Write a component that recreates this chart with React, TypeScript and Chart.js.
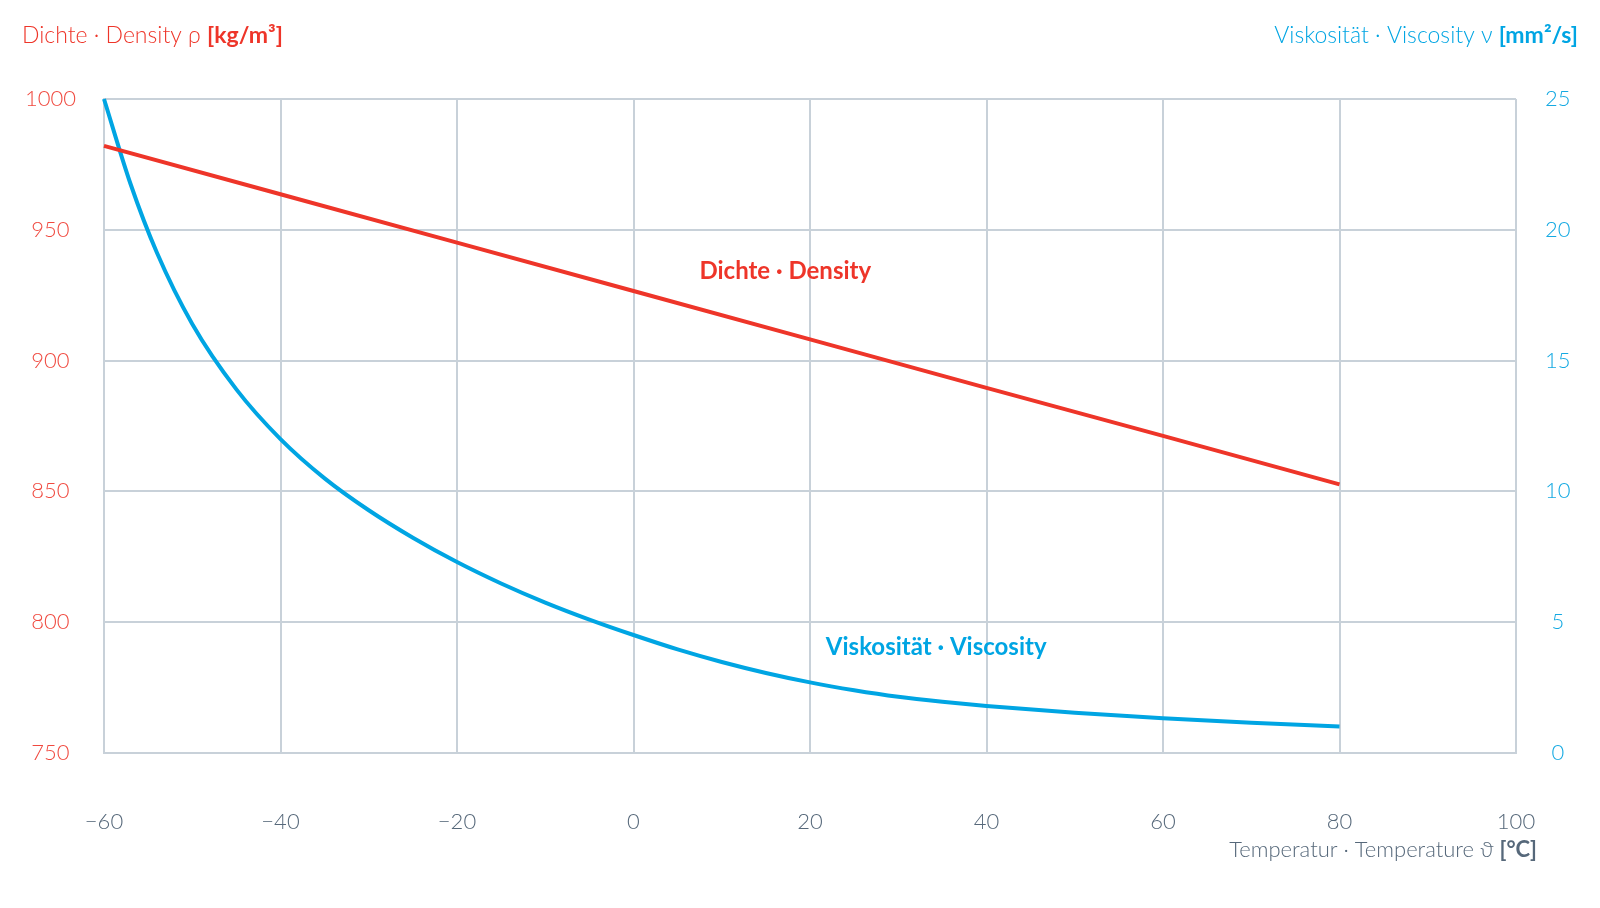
import React from 'react'
import { Chart, registerables } from 'chart.js'

Chart.register(...registerables)

const RED = '#ee3529'
const BLUE = '#00a5e3'
const GREY = '#56687a'
const GRID = '#c8d1d9'
const FONT = 'Lato, "Open Sans", sans-serif'

// viscosity curve (°C -> mm²/s)
const viscTemps = [-60, -57, -54, -50, -45, -40, -35, -30, -25, -20, -15, -10, -5, 0, 5, 10, 15, 20, 25, 30, 35, 40, 50, 60, 70, 80]
const viscosity = [25.0, 21.76, 19.12, 16.4, 13.9, 12.0, 10.5, 9.28, 8.23, 7.3, 6.48, 5.75, 5.1, 4.51, 3.96, 3.48, 3.06, 2.7, 2.4, 2.15, 1.96, 1.8, 1.54, 1.33, 1.16, 1.01]

// density line (°C -> kg/m³)
const densTemps = [-60, -40, -20, 0, 20, 40, 60, 80]
const density = [982.1, 963.6, 945.1, 926.6, 908.1, 889.6, 871.2, 852.7]

const xRange = [-60, 100]
const densityRange = [750, 1000]
const viscosityRange = [0, 25]

const curveLabels = [
  { text: 'Dichte · Density', x: 17.2, y: 934.3, axis: 'yDens', color: RED },
  { text: 'Viskosität · Viscosity', x: 34.3, y: 4.05, axis: 'yVisc', color: BLUE },
]

type Part = { text: string; bold?: boolean; color: string; size: number }

const drawRich = (ctx: CanvasRenderingContext2D, parts: Part[], x: number, y: number, align: 'left' | 'right') => {
  const fontOf = (p: Part) => `${p.bold ? 700 : 300} ${p.size}px ${FONT}`
  const widths = parts.map((p) => {
    ctx.font = fontOf(p)
    return ctx.measureText(p.text).width
  })
  const total = widths.reduce((a, b) => a + b, 0)
  let cx = align === 'right' ? x - total : x
  ctx.textAlign = 'left'
  ctx.textBaseline = 'alphabetic'
  parts.forEach((p, i) => {
    ctx.font = fontOf(p)
    ctx.fillStyle = p.color
    ctx.fillText(p.text, cx, y)
    cx += widths[i]
  })
}

const textPlugin = {
  id: 'textPlugin',
  afterDatasetsDraw(chart: any) {
    const ctx = chart.ctx as CanvasRenderingContext2D
    ctx.save()
    ctx.textAlign = 'center'
    ctx.textBaseline = 'middle'
    ctx.font = `700 24px ${FONT}`
    curveLabels.forEach((l) => {
      ctx.fillStyle = l.color
      ctx.fillText(l.text, chart.scales.x.getPixelForValue(l.x), chart.scales[l.axis].getPixelForValue(l.y))
    })
    ctx.restore()
  },
  afterDraw(chart: any) {
    const ctx = chart.ctx as CanvasRenderingContext2D
    ctx.save()
    drawRich(ctx, [
      { text: 'Dichte · Density ρ ', color: RED, size: 23 },
      { text: '[kg/m³]', color: RED, size: 23, bold: true },
    ], 22, 43, 'left')
    drawRich(ctx, [
      { text: 'Viskosität · Viscosity ν ', color: BLUE, size: 23 },
      { text: '[mm²/s]', color: BLUE, size: 23, bold: true },
    ], 1578, 43, 'right')
    drawRich(ctx, [
      { text: 'Temperatur · Temperature ϑ ', color: GREY, size: 22 },
      { text: '[°C]', color: GREY, size: 22, bold: true },
    ], 1537, 857, 'right')
    ctx.restore()
  },
}

const fmt = (v: number) => (v < 0 ? '\u2212' + Math.abs(v) : String(v))

const App = () => {
  const canvasRef = React.useRef<HTMLCanvasElement | null>(null)

  React.useEffect(() => {
    let theChart: Chart | undefined
    if (canvasRef.current !== null) {
      theChart = new Chart(canvasRef.current, {
        type: 'line',
        data: {
          datasets: [
            {
              label: 'Dichte',
              data: densTemps.map((t, i) => ({ x: t, y: density[i] })),
              yAxisID: 'yDens',
              borderColor: RED,
              borderWidth: 4,
              pointRadius: 0,
              clip: false,
            },
            {
              label: 'Viskosität',
              data: viscTemps.map((t, i) => ({ x: t, y: viscosity[i] })),
              yAxisID: 'yVisc',
              borderColor: BLUE,
              borderWidth: 4,
              pointRadius: 0,
              cubicInterpolationMode: 'monotone',
              clip: false,
            },
          ],
        },
        options: {
          animation: false,
          responsive: true,
          maintainAspectRatio: false,
          layout: { padding: { top: 99, left: 0, right: 0, bottom: 0 } },
          plugins: { legend: { display: false }, tooltip: { enabled: false } },
          scales: {
            x: {
              type: 'linear',
              min: xRange[0],
              max: xRange[1],
              afterFit: (s: any) => { s.height = 155 },
              grid: { color: GRID, lineWidth: 2, drawTicks: false },
              border: { color: GRID, width: 2 },
              ticks: {
                stepSize: 20,
                padding: 56,
                color: GREY,
                font: { family: FONT, size: 22, weight: 300 as any },
                callback: (v: any) => fmt(Number(v)),
              },
            },
            yDens: {
              type: 'linear',
              position: 'left',
              min: densityRange[0],
              max: densityRange[1],
              afterFit: (s: any) => { s.width = 104 },
              grid: { color: GRID, lineWidth: 2, drawTicks: false },
              border: { color: GRID, width: 2 },
              ticks: {
                stepSize: 50,
                padding: 28,
                crossAlign: 'center',
                color: '#f0493f',
                font: { family: FONT, size: 22, weight: 300 as any },
                callback: (v: any) => String(v),
              },
            },
            yVisc: {
              type: 'linear',
              position: 'right',
              min: viscosityRange[0],
              max: viscosityRange[1],
              afterFit: (s: any) => { s.width = 84 },
              grid: { display: false, drawTicks: false },
              border: { display: false },
              ticks: {
                stepSize: 5,
                padding: 29,
                crossAlign: 'center',
                color: '#14a9e2',
                font: { family: FONT, size: 22, weight: 300 as any },
                callback: (v: any) => String(v),
              },
            },
          },
        },
        plugins: [textPlugin],
      } as any)
    }
    return () => {
      if (theChart) theChart.destroy()
    }
  }, [])

  return (
    <div style={{ position: 'absolute', left: 0, top: 0, width: 1600, height: 908, background: '#fff' }}>
      <canvas ref={canvasRef}></canvas>
    </div>
  )
}

export default App
